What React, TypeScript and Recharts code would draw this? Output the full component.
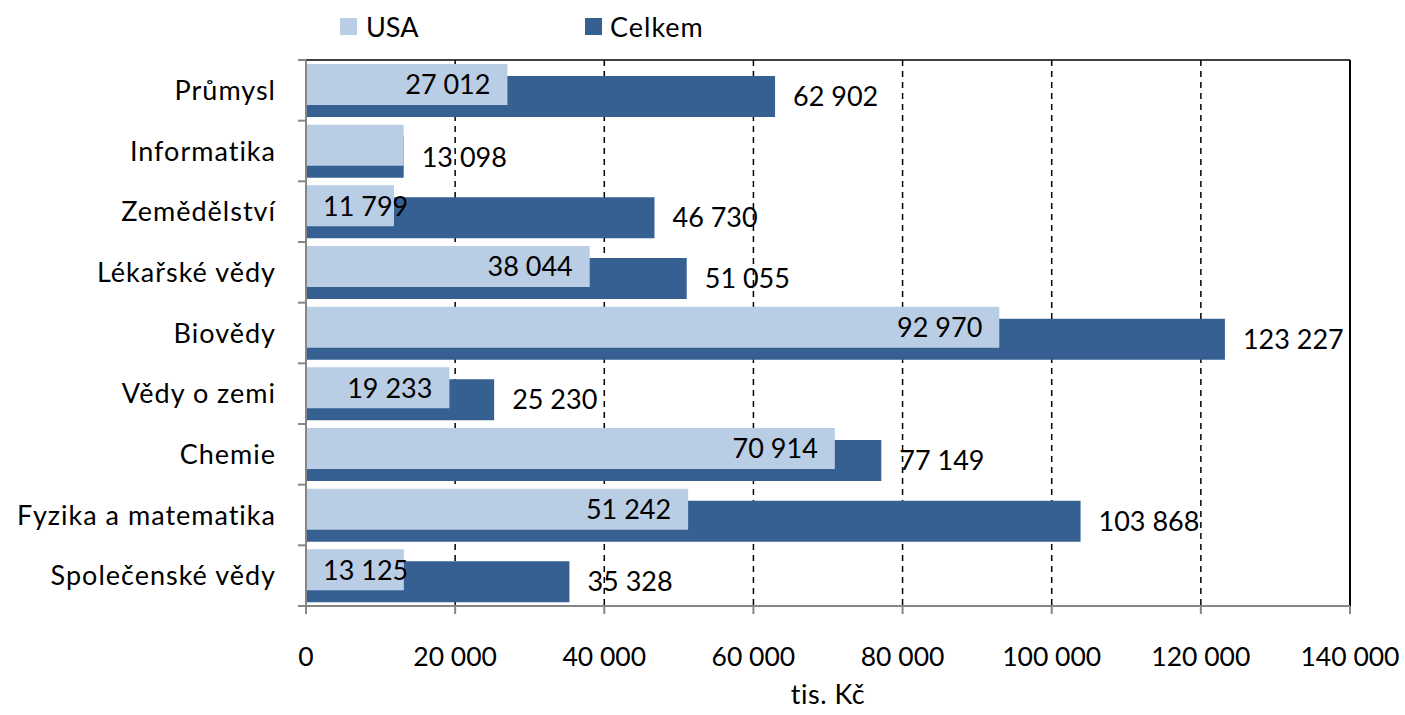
import React from 'react';
import { BarChart, Bar, XAxis, YAxis, CartesianGrid, LabelList, Legend, ReferenceLine } from 'recharts';

const categories = [
  'Průmysl',
  'Informatika',
  'Zemědělství',
  'Lékařské vědy',
  'Biovědy',
  'Vědy o zemi',
  'Chemie',
  'Fyzika a matematika',
  'Společenské vědy',
];
const usaValues = [27012, 13098, 11799, 38044, 92970, 19233, 70914, 51242, 13125];
const celkemValues = [62902, 13098, 46730, 51055, 123227, 25230, 77149, 103868, 35328];
const xTicks = [0, 20000, 40000, 60000, 80000, 100000, 120000, 140000];
const seriesNames = ['USA', 'Celkem'];
const axisTitle = 'tis. Kč';

const USA_COLOR = '#B9CDE5';
const CELKEM_COLOR = '#376092';
const FONT = 'Lato, "Open Sans", sans-serif';
const AXIS_GRAY = '#868686';
const LABEL_SIZE = 27;

const data = categories.map((name, i) => ({
  name,
  usa: usaValues[i],
  celkem: celkemValues[i],
  usaLabel: usaValues[i] === celkemValues[i] ? null : usaValues[i],
}));

const fmt = (v: any) =>
  v === null || v === undefined || v === '' ? '' : String(v).replace(/\B(?=(\d{3})+(?!\d))/g, ' ');

const zero = () => 0;

let measureCtx: CanvasRenderingContext2D | null = null;
const measure = (text: string) => {
  if (typeof document === 'undefined') return text.length * LABEL_SIZE * 0.55;
  if (!measureCtx) {
    const c = document.createElement('canvas');
    measureCtx = c.getContext('2d');
  }
  if (!measureCtx) return text.length * LABEL_SIZE * 0.55;
  measureCtx.font = `${LABEL_SIZE}px Lato`;
  return measureCtx.measureText(text).width;
};

const InsideEndLabel = (props: any) => {
  const { x, y, width, height, value } = props;
  if (value === null || value === undefined) return null;
  const text = fmt(value);
  const pad = 17;
  const w = measure(text);
  let startX = x + width - pad - w;
  if (startX < x + pad) startX = x + pad;
  return (
    <text x={startX} y={y + height / 2} dy="0.36em" textAnchor="start" fontFamily={FONT} fontSize={LABEL_SIZE} fill="#000">
      {text}
    </text>
  );
};

const CategoryTick = (props: any) => {
  const { x, y, payload, index, visibleTicksCount } = props;
  const half = payload && typeof payload.offset === 'number' ? payload.offset : 0;
  const axisX = x + 30;
  return (
    <g>
      <line x1={axisX - 8} x2={axisX} y1={y - half} y2={y - half} stroke={AXIS_GRAY} strokeWidth={2} />
      {index === visibleTicksCount - 1 && (
        <line x1={axisX - 8} x2={axisX} y1={y + half} y2={y + half} stroke={AXIS_GRAY} strokeWidth={2} />
      )}
      <text x={x} y={y} dy="0.36em" textAnchor="end" fontFamily={FONT} fontSize={27} letterSpacing={1} fill="#000">
        {payload.value}
      </text>
    </g>
  );
};

const LegendContent = () => (
  <div style={{ position: 'relative', width: 1405, height: 50, fontFamily: FONT, fontSize: 27, letterSpacing: 1, color: '#000' }}>
    <div style={{ position: 'absolute', left: 340, top: 18, width: 17, height: 17, background: USA_COLOR }} />
    <span style={{ position: 'absolute', left: 366, top: 13, lineHeight: '27px', whiteSpace: 'nowrap', letterSpacing: 0 }}>{seriesNames[0]}</span>
    <div style={{ position: 'absolute', left: 585, top: 18, width: 17, height: 17, background: CELKEM_COLOR }} />
    <span style={{ position: 'absolute', left: 610, top: 13, lineHeight: '27px', whiteSpace: 'nowrap' }}>{seriesNames[1]}</span>
  </div>
);

export default function App() {
  return (
    <div style={{ position: 'absolute', left: 0, top: 0, width: 1405, height: 715, background: '#fff' }}>
      <BarChart
        width={1405}
        height={715}
        data={data}
        layout="vertical"
        margin={{ top: 9, right: 55, bottom: 0, left: 0 }}
        barSize={41}
        barGap={-29}
      >
        <Legend
          verticalAlign="top"
          align="left"
          content={<LegendContent />}
          wrapperStyle={{ top: 0, left: 0, width: 1405, height: 50 }}
        />
        <CartesianGrid
          horizontal={false}
          vertical={true}
          yAxisId="a"
          stroke="#000"
          strokeWidth={1.5}
          strokeDasharray="6 5"
        />
        <XAxis
          type="number"
          domain={[0, 140000]}
          ticks={xTicks}
          interval={0}
          tickFormatter={fmt}
          height={109}
          tickSize={8}
          tickMargin={33}
          axisLine={{ stroke: AXIS_GRAY, strokeWidth: 2 }}
          tickLine={{ stroke: AXIS_GRAY, strokeWidth: 2 }}
          tick={{ fontFamily: FONT, fontSize: 26.5, fill: '#000' }}
          label={{ value: axisTitle, position: 'insideBottom', offset: 11, fontFamily: FONT, fontSize: 27, letterSpacing: 0.5, fill: '#000' }}
        />
        <XAxis
          xAxisId="top"
          orientation="top"
          type="number"
          domain={[0, 140000]}
          allowDataOverflow={true}
          height={1}
          tick={false}
          tickLine={false}
          axisLine={{ stroke: '#000', strokeWidth: 1.5 }}
        />
        <YAxis
          yAxisId="a"
          type="category"
          dataKey="name"
          width={306}
          tickSize={8}
          tickMargin={22}
          tickLine={false}
          interval={0}
          axisLine={{ stroke: AXIS_GRAY, strokeWidth: 2 }}
          tick={<CategoryTick />}
        />
        <YAxis yAxisId="b" type="category" dataKey="name" hide />
        <YAxis yAxisId="c" type="category" dataKey="name" hide />
        <Bar xAxisId="top" yAxisId="c" dataKey={zero} fill="none" legendType="none" isAnimationActive={false} />
        <Bar yAxisId="b" dataKey={zero} fill="none" legendType="none" isAnimationActive={false} />
        <Bar yAxisId="b" dataKey="celkem" name={seriesNames[1]} fill={CELKEM_COLOR} isAnimationActive={false}>
          <LabelList
            dataKey="celkem"
            position="right"
            offset={18}
            formatter={fmt}
            fontFamily={FONT}
            fontSize={LABEL_SIZE}
            fill="#000"
          />
        </Bar>
        <Bar yAxisId="a" dataKey="usa" name={seriesNames[0]} fill={USA_COLOR} isAnimationActive={false}>
          <LabelList dataKey="usaLabel" content={<InsideEndLabel />} />
        </Bar>
        <Bar yAxisId="a" dataKey={zero} fill="none" legendType="none" isAnimationActive={false} />
        <ReferenceLine x={140000} yAxisId="a" stroke="#000" strokeWidth={2} />
      </BarChart>
    </div>
  );
}
